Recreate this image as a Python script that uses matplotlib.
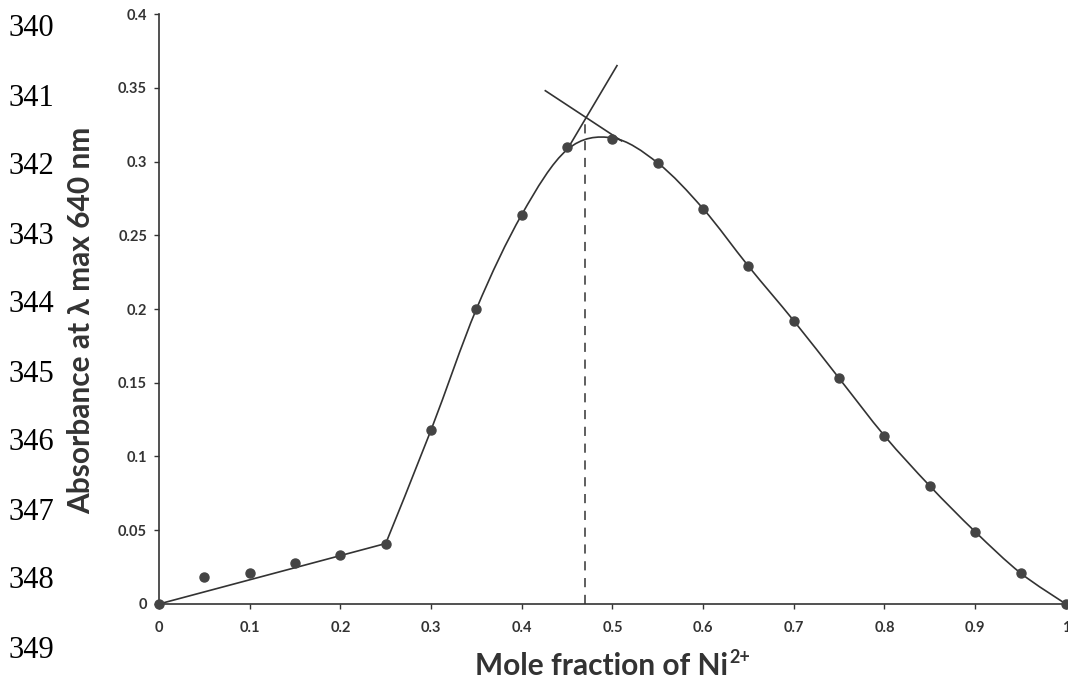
import numpy as np
import matplotlib.pyplot as plt
from matplotlib.path import Path
from matplotlib.patches import PathPatch

# ----- data -----
mole_fraction = [0.0, 0.05, 0.10, 0.15, 0.20, 0.25, 0.30, 0.35, 0.40, 0.45, 0.50,
                 0.55, 0.60, 0.65, 0.70, 0.75, 0.80, 0.85, 0.90, 0.95, 1.0]
absorbance = [0.0, 0.018, 0.021, 0.028, 0.033, 0.041, 0.118, 0.200, 0.264, 0.310, 0.315,
              0.299, 0.268, 0.229, 0.192, 0.153, 0.114, 0.080, 0.049, 0.021, 0.0]

# straight line over the low part
low_x = [0.0, 0.25]
low_y = [0.0, 0.041]

# drawn trend curve knots (as traced on the figure)
curve_x = [0.25, 0.30, 0.35, 0.40, 0.45, 0.50, 0.55, 0.60, 0.65, 0.70,
           0.75, 0.80, 0.85, 0.90, 0.95, 1.0]
curve_y = [0.041, 0.118, 0.200, 0.264, 0.308, 0.316, 0.299, 0.268, 0.229, 0.192,
           0.153, 0.114, 0.080, 0.049, 0.021, 0.0]

# two tangent lines and the dropped intersection
tan_up_x = [0.45, 0.505]
tan_up_y = [0.308, 0.365]
tan_down_x = [0.426, 0.51]
tan_down_y = [0.348, 0.314]
x_cross = 0.47
y_cross = 0.330

yticks = [0, 0.05, 0.1, 0.15, 0.2, 0.25, 0.3, 0.35, 0.4]
ytick_labels = ["0", "0.05", "0.1", "0.15", "0.2", "0.25", "0.3", "0.35", "0.4"]
xticks = [0, 0.1, 0.2, 0.3, 0.4, 0.5, 0.6, 0.7, 0.8, 0.9, 1.0]
xtick_labels = ["0", "0.1", "0.2", "0.3", "0.4", "0.5", "0.6", "0.7", "0.8", "0.9", "1"]

line_numbers = ["340", "341", "342", "343", "344", "345", "346", "347", "348", "349"]

ink = "#333333"
sans = ["Lato", "DejaVu Sans"]


def smooth_path(xs, ys):
    """ Catmull-Rom knots turned into cubic bezier segments for a Path """
    pts = np.column_stack([xs, ys])
    verts = [pts[0]]
    codes = [Path.MOVETO]
    n = len(pts)
    for i in range(n - 1):
        p0 = pts[i - 1] if i > 0 else pts[i]
        p1 = pts[i]
        p2 = pts[i + 1]
        p3 = pts[i + 2] if i + 2 < n else pts[i + 1]
        c1 = p1 + (p2 - p0) / 6.0
        c2 = p2 - (p3 - p1) / 6.0
        verts += [c1, c2, p2]
        codes += [Path.CURVE4] * 3
    return Path(verts, codes)


fig = plt.figure(figsize=(10.68, 6.81), dpi=100)
ax = fig.add_axes([0.1489, 0.1131, 0.8491, 0.8663])

ax.plot(low_x, low_y, color=ink, lw=1.2, zorder=2)
ax.add_patch(PathPatch(smooth_path(curve_x, curve_y), fill=False,
                       edgecolor=ink, lw=1.2, zorder=2))
ax.plot(tan_up_x, tan_up_y, color=ink, lw=1.2, zorder=2)
ax.plot(tan_down_x, tan_down_y, color=ink, lw=1.2, zorder=2)
ax.plot([x_cross, x_cross], [0, y_cross], color=ink, lw=1.1,
        dashes=(6, 5), zorder=2)

ax.plot(mole_fraction, absorbance, "o", color="#444444", ms=6.5,
        clip_on=False, zorder=3)

ax.set_xlim(0, 1)
ax.set_ylim(0, 0.4)
ax.spines["top"].set_visible(False)
ax.spines["right"].set_visible(False)
for s in ["left", "bottom"]:
    ax.spines[s].set_color(ink)
    ax.spines[s].set_linewidth(1.2)

ax.set_yticks(yticks)
ax.set_yticklabels(ytick_labels)
ax.set_xticks(xticks)
ax.set_xticklabels(xtick_labels)
ax.tick_params(direction="out", length=3.6, width=1, color=ink,
               labelcolor=ink, labelsize=10.5)
ax.tick_params(axis="x", pad=9)
ax.tick_params(axis="y", pad=5)
for lab in ax.get_xticklabels() + ax.get_yticklabels():
    lab.set_fontweight("bold")
    lab.set_family(sans)

# axis titles placed where they sit on the scan
fig.text(81 / 1068, 1 - 320 / 681, "Absorbance at λ max 640 nm", rotation=90,
         fontsize=21.5, fontweight="bold", color=ink, family=sans,
         ha="center", va="center")
xl = fig.text(475 / 1068, 1 - 666 / 681, "Mole fraction of Ni", fontsize=21.5,
              fontweight="bold", color=ink, family=sans, ha="left", va="center")
ax.annotate("2+", xy=(1.0, 0.8), xycoords=xl, xytext=(1, 0), textcoords="offset points",
            fontsize=13, fontweight="bold", color=ink, family=sans,
            ha="left", va="center", annotation_clip=False)

for i, num in enumerate(line_numbers):
    fig.text(8 / 1068, 1 - (29 + 69 * i) / 681, num, fontsize=22,
             family="Liberation Serif", va="center", ha="left", color="black")

fig.savefig("out.png", dpi=100)
